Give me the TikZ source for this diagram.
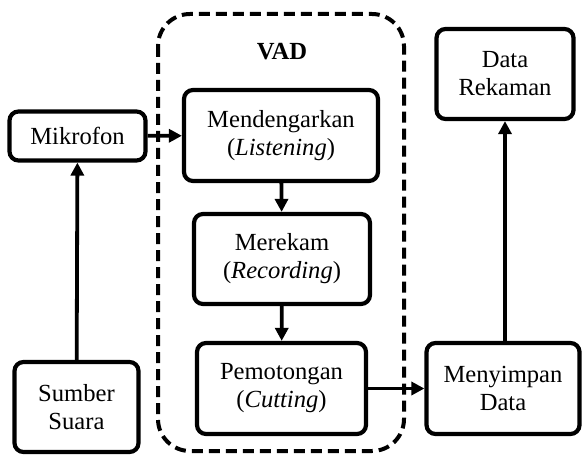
\documentclass[tikz,border=0pt]{standalone}
\usepackage{fontspec}
\setmainfont{Liberation Serif}
\usetikzlibrary{arrows.meta}
\begin{document}
\begin{tikzpicture}[x=0.5pt,y=-0.5pt,
  box/.style={draw, line width=2.1pt, rounded corners=4.5pt, align=center,
    inner sep=0pt, font=\fontsize{12.3pt}{14pt}\selectfont},
  arr/.style={line width=1.9pt, -{Triangle[length=6.5pt,width=6.5pt]}}]
\useasboundingbox (0,0) rectangle (582,454);
\draw[line width=2pt, dash pattern=on 5.5pt off 3pt, rounded corners=16pt]
  (158,14) rectangle (404,451);
\node[font=\fontsize{12.3pt}{14pt}\selectfont\bfseries] (vad) at (282,52) {VAD};
\node[box, minimum width=68pt, minimum height=24.5pt] (mik) at (77.5,136) {Mikrofon};
\node[box, minimum width=97pt, minimum height=45.5pt] (dengar) at (281,135.5) {Mendengarkan\\(\textit{Listening})};
\node[box, minimum width=88pt, minimum height=45pt] (rekam) at (282,259) {Merekam\\(\textit{Recording})};
\node[box, minimum width=84.5pt, minimum height=45.5pt] (potong) at (281.5,388.5) {Pemotongan\\(\textit{Cutting})};
\node[box, minimum width=76.5pt, minimum height=45.5pt] (simpan) at (503,388.5) {Menyimpan\\Data};
\node[box, minimum width=68.5pt, minimum height=45pt] (data) at (505,74) {Data\\Rekaman};
\node[box, minimum width=62pt, minimum height=45pt] (sumber) at (76.5,407) {Sumber\\Suara};
\draw[arr] (sumber) -- (mik);
\draw[arr] (mik) -- (dengar);
\draw[arr] (dengar) -- (rekam);
\draw[arr] (rekam) -- (potong);
\draw[arr] (potong) -- (simpan);
\draw[arr] (simpan.north -| data.south) -- (data.south);
\end{tikzpicture}
\end{document}
